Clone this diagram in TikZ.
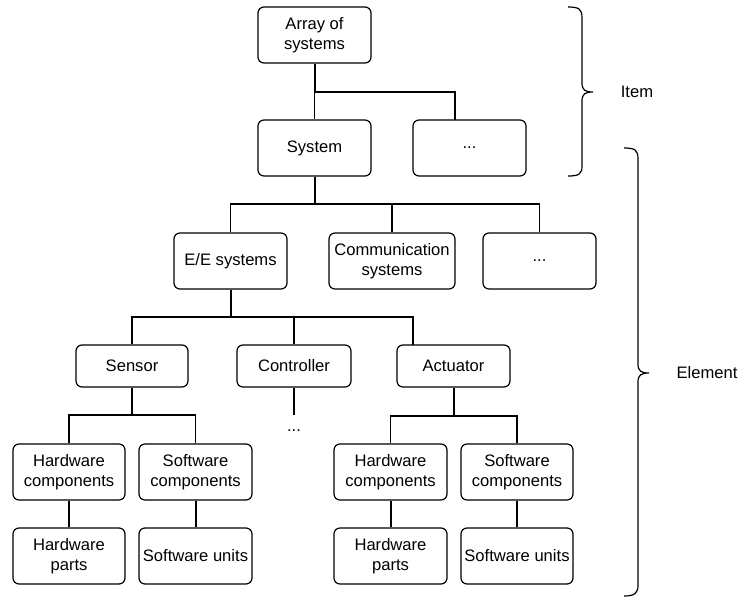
\documentclass[tikz,border=0pt]{standalone}
\usepackage{fontspec}
\setmainfont{Liberation Sans}
\begin{document}
\begin{tikzpicture}[x=1pt,y=-1pt,
  box/.style={draw, line width=1.2pt, rounded corners=6pt, align=center,
    inner sep=0pt, minimum width=113pt, minimum height=56pt,
    font=\fontsize{16.6}{19.5}\selectfont},
  lowbox/.style={box, minimum height=42pt},
  edge/.style={line width=1.2pt},
  trunk/.style={line width=2pt},
  brace/.style={line width=1.2pt},
  lbl/.style={font=\fontsize{16.6}{19.5}\selectfont, inner sep=0pt}]
\useasboundingbox (0,0) rectangle (741,597);

% level 1 and 2
\node[box] (arr) at (314.5,35) {Array of\\systems};
\node[box] (sys) at (314.5,148) {System};
\node[box] (d1)  at (469.5,148) {...};

% level 3
\node[box] (ee)   at (230.5,261) {E/E systems};
\node[box, minimum width=126pt] (comm) at (392,261) {Communication\\systems};
\node[box] (d2)   at (539.5,261) {...};

% level 4
\node[lowbox, minimum width=112pt] (sen) at (132,366) {Sensor};
\node[lowbox, minimum width=114pt] (con) at (294,366) {Controller};
\node[lowbox] (act) at (453.5,366) {Actuator};
\node[lbl] (cdots) at (294,431) {...};

% level 5 (sensor side)
\node[box, minimum width=112pt] (hcl) at (69,472) {Hardware\\components};
\node[box] (scl) at (195.5,472) {Software\\components};
\node[box, minimum width=112pt] (hpl) at (69,556) {Hardware\\parts};
\node[box] (sul) at (195.5,556) {Software units};

% level 5 (actuator side)
\node[box] (hcr) at (390.5,472) {Hardware\\components};
\node[box, minimum width=112pt] (scr) at (517,472) {Software\\components};
\node[box] (hpr) at (390.5,556) {Hardware\\parts};
\node[box, minimum width=112pt] (sur) at (517,556) {Software units};

% branch points
\coordinate (b1) at (314.5,92);
\coordinate (d1in) at (455,120);
\coordinate (b2) at (314.5,204);
\coordinate (b3) at (230.5,317);
\coordinate (actin) at (413,345);
\coordinate (b4) at (132,415);
\coordinate (b5) at (453.5,416);
\coordinate (cend) at (294,415);

% connectors
\draw[trunk] (arr.south) -- (b1);
\draw[edge] (b1) -- (sys.north);
\draw[edge] (b1) -| (d1in);

\draw[trunk] (sys.south) -- (b2);
\draw[edge] (b2) -| (ee.north);
\draw[edge] (b2) -| (comm.north);
\draw[edge] (b2) -| (d2.north);

\draw[trunk] (ee.south) -- (b3);
\draw[edge] (b3) -| (sen.north);
\draw[edge] (b3) -| (con.north);
\draw[edge] (b3) -| (actin);

\draw[trunk] (sen.south) -- (b4);
\draw[edge] (b4) -| (hcl.north);
\draw[edge] (b4) -| (scl.north);
\draw[trunk] (hcl.south) -- (hpl.north);
\draw[trunk] (scl.south) -- (sul.north);

\draw[trunk] (con.south) -- (cend);

\draw[trunk] (act.south) -- (b5);
\draw[edge] (b5) -| (hcr.north);
\draw[edge] (b5) -| (scr.north);
\draw[trunk] (hcr.south) -- (hpr.north);
\draw[trunk] (scr.south) -- (sur.north);

% braces
\draw[brace] (568,7) .. controls (579,7) and (582,9) .. (582,18)
  -- (582,83) .. controls (582,90) and (585,92) .. (593,92)
  .. controls (585,92) and (582,94) .. (582,101)
  -- (582,166) .. controls (582,174) and (579,176) .. (568,176);
\node[lbl] (item) at (637,92) {Item};

\draw[brace] (624,148) .. controls (635,148) and (638,150) .. (638,159)
  -- (638,364) .. controls (638,371) and (641,373) .. (649,373)
  .. controls (641,373) and (638,375) .. (638,382)
  -- (638,585) .. controls (638,593) and (635,596) .. (624,596);
\node[lbl] (elem) at (707,373) {Element};
\end{tikzpicture}
\end{document}
